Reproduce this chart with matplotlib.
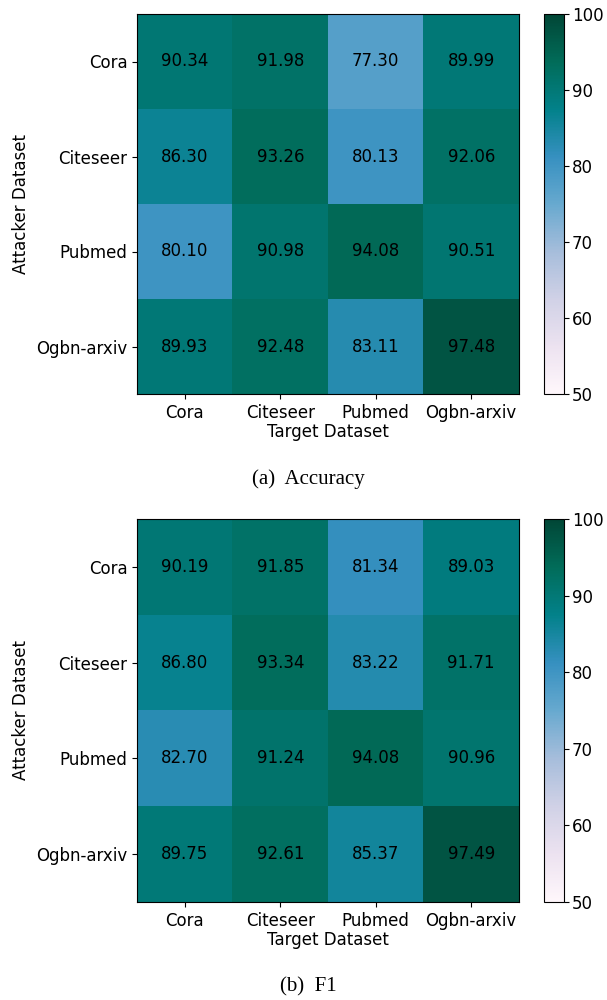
import matplotlib
matplotlib.use("Agg")
import matplotlib.pyplot as plt
import numpy as np

plt.rcParams["font.family"] = ["DejaVu Sans"]

datasets = ["Cora", "Citeseer", "Pubmed", "Ogbn-arxiv"]

acc = np.array([
    [90.34, 91.98, 77.30, 89.99],
    [86.30, 93.26, 80.13, 92.06],
    [80.10, 90.98, 94.08, 90.51],
    [89.93, 92.48, 83.11, 97.48],
])

f1 = np.array([
    [90.19, 91.85, 81.34, 89.03],
    [86.80, 93.34, 83.22, 91.71],
    [82.70, 91.24, 94.08, 90.96],
    [89.75, 92.61, 85.37, 97.49],
])

captions = ["(a)  Accuracy", "(b)  F1"]

W, H = 607, 1000
fig = plt.figure(figsize=(W / 100, H / 100), dpi=100)


def box(x0, y0, x1, y1):
    # pixel box (top-left origin) -> figure fraction
    return [x0 / W, 1 - y1 / H, (x1 - x0) / W, (y1 - y0) / H]


panels = [
    (acc, 14, 394, 479),
    (f1, 519, 902, 987),
]

fs = 12
for (data, top, bot, cap_y), cap in zip(panels, captions):
    ax = fig.add_axes(box(137, top, 519, bot))
    cax = fig.add_axes(box(544, top, 564, bot))
    im = ax.imshow(data, cmap="PuBuGn", vmin=50, vmax=100, aspect="auto")
    for i in range(data.shape[0]):
        for j in range(data.shape[1]):
            ax.text(j, i, f"{data[i, j]:.2f}", ha="center", va="center",
                    color="black", fontsize=fs)
    ax.set_xticks(range(len(datasets)))
    ax.set_xticklabels(datasets, fontsize=fs)
    ax.set_yticks(range(len(datasets)))
    ax.set_yticklabels(datasets, fontsize=fs)
    ax.set_xlabel("Target Dataset", fontsize=fs, labelpad=1)
    ax.set_ylabel("Attacker Dataset", fontsize=fs)
    cb = fig.colorbar(im, cax=cax)
    cb.set_ticks([50, 60, 70, 80, 90, 100])
    cb.ax.tick_params(labelsize=fs, pad=2)
    fig.text(308 / W, 1 - cap_y / H, cap, ha="center", va="center",
             fontsize=15, family="Liberation Serif")

fig.savefig("out.png", dpi=100)
